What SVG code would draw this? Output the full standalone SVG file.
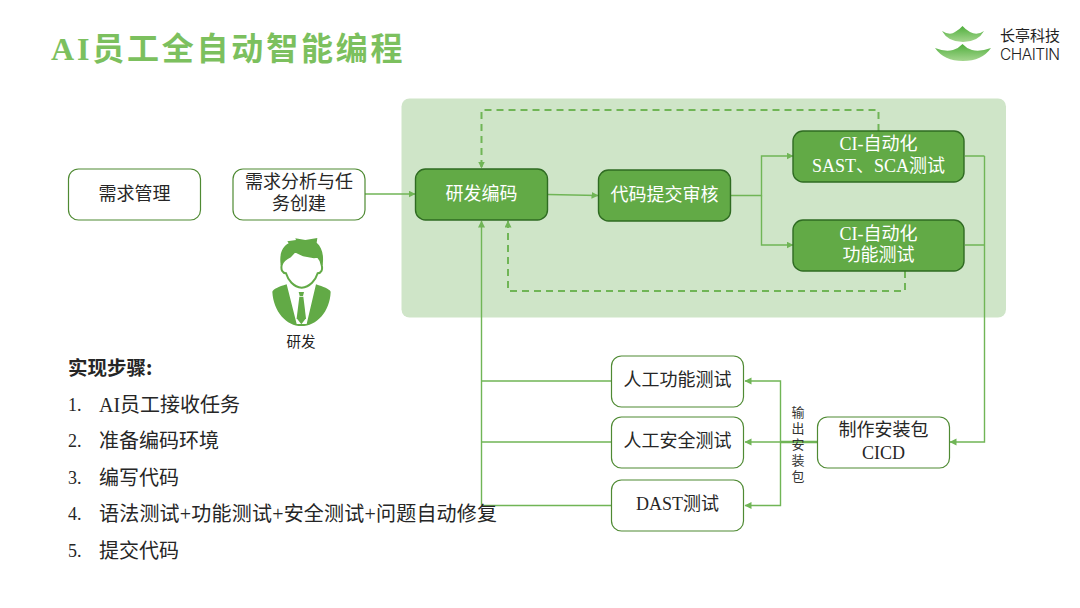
<svg xmlns="http://www.w3.org/2000/svg" width="1080" height="608" viewBox="0 0 1080 608">
<defs>
<style>
text{font-family:"Liberation Serif","Noto Sans CJK SC",sans-serif;text-anchor:middle}
.w{fill:#fff;font-size:18px}
.k{fill:#262626;font-size:18px}
.s{font-size:20px;fill:#262626;text-anchor:start}
.n{font-size:18px;fill:#262626;text-anchor:start}
.box{fill:#fff;stroke:#4f8a33;stroke-width:1.2}
.gb{fill:#62aa46;stroke:#2f6b22;stroke-width:1.4}
.ln{fill:none;stroke:#70b556;stroke-width:1.4}
.da{fill:none;stroke:#70b556;stroke-width:2;stroke-dasharray:7 5}
.gr{fill:#62aa46}
</style>
<marker id="a" markerWidth="8" markerHeight="8" refX="6.500" refY="3.500" orient="auto" markerUnits="userSpaceOnUse"><path d="M0 0L7 3.500L0 7z" fill="#70b556"/></marker>
<linearGradient id="lg" x1="0" y1="0" x2="0" y2="1"><stop offset="0" stop-color="#4fae3c"/><stop offset="1" stop-color="#a5d68f"/></linearGradient>
</defs>
<rect width="1080" height="608" fill="#fff"/>
<text x="51" y="60" style="font-size:32px;font-weight:bold;fill:#7cc05e;text-anchor:start;letter-spacing:2.800px">AI员工全自动智能编程</text>
<g id="logo">
<path d="M942 31Q950 36 955 32Q960 29 962.500 26Q965 29 970 32Q977 36 984 31Q978 42 963 42Q948 42 942 31Z" fill="url(#lg)"/>
<path d="M935 48Q945 52 953 50Q959 48 962.500 44Q966 48 972 50Q980 52 991 48Q982 61 963 61Q944 61 935 48Z" fill="url(#lg)"/>
<text x="1030" y="41" style="font-family:'Noto Sans CJK SC',sans-serif;font-size:15px;fill:#222">长亭科技</text>
<text x="1030" y="60" textLength="60" style="font-family:'Inter',sans-serif;font-size:15.500px;fill:#222;font-weight:300">CHAITIN</text>
</g>
<rect id="panel" x="401.500" y="98.500" width="604.500" height="219" rx="8" fill="#cfe5c8"/>
<g id="connectors">
<path class="ln" marker-end="url(#a)" d="M365 194H415"/>
<path class="ln" marker-end="url(#a)" d="M548 194.500L598 195.500"/>
<path class="ln" marker-end="url(#a)" d="M731 195.500H761.500V156H793"/>
<path class="ln" marker-end="url(#a)" d="M761.500 195.500V245H793"/>
<path class="da" marker-end="url(#a)" d="M878.500 131V110H481.500V168"/>
<path class="da" marker-end="url(#a)" d="M905 271V291H508V221"/>
<path class="ln" d="M965 156H984.500M965 245H984.500"/>
<path class="ln" marker-end="url(#a)" d="M984.500 156V442H950"/>
<path class="ln" marker-end="url(#a)" d="M817 442H745"/>
<path class="ln" style="stroke-width:2.400" d="M817 442H781"/>
<path class="ln" marker-end="url(#a)" d="M780.500 442V381H745"/>
<path class="ln" marker-end="url(#a)" d="M780.500 442V505.500H745"/>
<path class="ln" marker-end="url(#a)" d="M481.500 505.500V221"/>
<path class="ln" d="M611 381H481.500M611 442H481.500M611 505.500H481.500"/>
</g>
<g id="n1"><rect class="box" x="68.500" y="169" width="132" height="51" rx="10"/><text class="k" x="134.500" y="200">需求管理</text></g>
<g id="n2"><rect class="box" x="233" y="169" width="132" height="51" rx="10"/><text class="k" x="299" y="188">需求分析与任</text><text class="k" x="299" y="210">务创建</text></g>
<g id="n3"><rect class="gb" x="415.500" y="169" width="132" height="51" rx="10"/><text class="w" x="481.500" y="200">研发编码</text></g>
<g id="n4"><rect class="gb" x="598.500" y="170" width="132" height="51" rx="10"/><text class="w" x="664.500" y="201">代码提交审核</text></g>
<g id="n5"><rect class="gb" x="793" y="131" width="171" height="51" rx="10"/><text class="w" x="878.500" y="150">CI-自动化</text><text class="w" x="878.500" y="172">SAST、SCA测试</text></g>
<g id="n6"><rect class="gb" x="793" y="220" width="171" height="51" rx="10"/><text class="w" x="878.500" y="240">CI-自动化</text><text class="w" x="878.500" y="261">功能测试</text></g>
<g id="n7"><rect class="box" x="611.500" y="356" width="132" height="51" rx="10"/><text class="k" x="677.500" y="386">人工功能测试</text></g>
<g id="n8"><rect class="box" x="611.500" y="417" width="132" height="51" rx="10"/><text class="k" x="677.500" y="447">人工安全测试</text></g>
<g id="n9"><rect class="box" x="611.500" y="480" width="132" height="51" rx="10"/><text class="k" x="677.500" y="510">DAST测试</text></g>
<g id="n10"><rect class="box" x="817.500" y="417" width="132" height="51" rx="10"/><text class="k" x="883.500" y="436">制作安装包</text><text class="k" x="883.500" y="459">CICD</text></g>
<g id="edge-label" style="font-size:13px;fill:#333"><text x="798" y="417">输</text><text x="798" y="433">出</text><text x="798" y="449">安</text><text x="798" y="465">装</text><text x="798" y="481">包</text></g>
<g id="person" transform="translate(240 220) scale(.33333)">
<path class="gr" d="M122 135C118 105 124 82 146 70L142 64L168 60L166 55L196 60L232 54L230 68C246 82 252 105 248 135Z"/>
<path d="M125 135C122 150 128 160 138 160C144 180 160 201 185 203C210 201 227 180 233 160C243 160 249 150 245 135C243 125 239 116 233 110L222 112L190 106L165 94L150 110C138 116 128 124 125 135Z" fill="#fff" stroke="#62aa46" stroke-width="6"/>
<path class="gr" d="M140 193C115 200 100 208 97 215C100 275 140 318 184 318C230 318 270 275 272 215C268 207 250 200 228 193L200 312H170Z"/>
<path class="gr" d="M176 216H192L189 228H179Z"/>
<path class="gr" d="M178 230H190L198 295L184 313L170 295Z"/>
</g>
<text x="301" y="347" style="font-family:'Noto Sans CJK SC',sans-serif;font-size:14.500px;fill:#222">研发</text>
<g id="steps">
<text class="s" x="68" y="375" style="font-weight:bold;font-family:'Noto Sans CJK SC',sans-serif;font-size:19.500px">实现步骤:</text>
<text class="n" x="68" y="411">1.</text><text class="s" x="99" y="412">AI员工接收任务</text>
<text class="n" x="68" y="447">2.</text><text class="s" x="99" y="448">准备编码环境</text>
<text class="n" x="68" y="484">3.</text><text class="s" x="99" y="485">编写代码</text>
<text class="n" x="68" y="520">4.</text><text class="s" x="99" y="521" textLength="398">语法测试+功能测试+安全测试+问题自动修复</text>
<text class="n" x="68" y="557">5.</text><text class="s" x="99" y="558">提交代码</text>
</g>
</svg>
